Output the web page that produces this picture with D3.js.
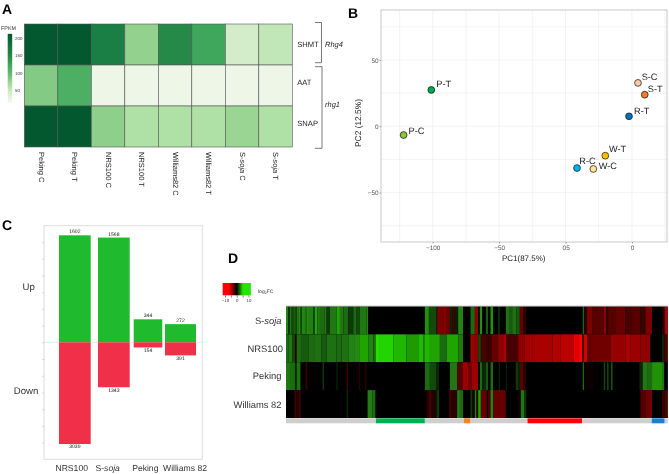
<!DOCTYPE html>
<html><head><meta charset="utf-8">
<script src="https://cdn.jsdelivr.net/npm/d3@7"></script>
<style>html,body{margin:0;padding:0;background:#fff}svg{display:block;filter:blur(0.35px)}text{font-family:"Liberation Sans",Arial,sans-serif;text-rendering:geometricPrecision}</style>
</head><body><svg id="c" width="669" height="474"></svg>
<script>
// Panel A data
const aSamples = [["Peking C"],["Peking T"],["NRS100 C"],["NRS100 T"],["Williams82 C"],["Williams82 T"],["S-","soja"," C"],["S-","soja"," T"]];
const aGenes = ["SHMT","AAT","SNAP"];
const aSHMT = [214,214,165,78,150,125,45,55];
const aAAT  = [85,115,20,20,20,20,20,20];
const aSNAP = [214,214,80,63,63,63,74,63];
const aLegendTicks = [50,100,150,200];
// Panel B data
const pcNames = ["P-T","P-C","S-C","S-T","R-T","W-T","W-C","R-C"];
const pc1 = [-100.7,-114.6,3,6.4,-1.5,-13.4,-19.4,-27.6];
const pc2 = [27.4,-6.6,32.7,23.8,7.5,-22.2,-32.2,-31.5];
const pcColors = ["#00a650","#8cc63f","#f8cbad","#ed7d31","#0070c0","#ffc000","#ffe699","#00b0f0"];
const pc1Ticks = [-100,-66.7,-33.3,0];
const pc1TickLabels = ["\u2212100","\u221250","05","0"];
const pc2Ticks = [50,0,-50];
// Panel C data
const cCats = ["NRS100","S-soja","Peking","Williams 82"];
const cUp = [1602,1568,344,272];
const cDown = [3039,1343,154,391];
// Panel D data: [end bin, log2FC] runs along the clustered genes
const dRows = ["S-soja","NRS100","Peking","Williams 82"];
const dSoja = [[7,5],[12,1.5],[17,4],[25,2],[29,5],[32,1.5],[37,4],[44,6],[47,1.5],[57,5],[61,3.5],[69,5.5],[82,4.5],[87,2],[94,7],[102,4],[115,3],[122,4],[132,1.5],[152,4],[162,7],[172,4],[187,3],[202,1.5],[212,3],[222,2],[242,4],[247,5],[417,0],[429,6],[452,2],[454,1],[472,-4],[480,-5],[492,-3.5],[500,1],[507,-2],[517,.8],[532,5],[554,0],[567,3],[577,-5],[582,0],[589,6],[600,0],[607,2.5],[614,0],[622,6],[637,0],[642,1.5],[660,0],[672,3.5],[679,2.5],[692,3.5],[702,2.5],[712,-3],[722,-1],[891,0],[895,3],[904,-1],[919,-4],[954,-2.5],[961,-5],[967,-1],[989,-2.5],[1019,-3],[1039,-2],[1064,-2.5],[1079,-1.5],[1099,-4],[1129,0],[1137,-1],[1146,-7]];
const dNRS = [[7,3],[19,4],[27,2],[32,-1],[45,3],[67,2.5],[87,3],[107,3.5],[122,2.5],[152,3.5],[167,3],[187,3.5],[207,5],[222,5.5],[247,7],[262,5],[269,3],[282,10],[322,9.5],[362,8],[397,6.5],[412,8],[417,6],[432,8],[462,7],[482,3],[517,7],[532,4],[554,0],[567,-6],[577,-5],[585,2],[603,-2],[617,-1.5],[637,-3],[652,-5],[662,-7],[697,-2],[717,-5],[747,-6.5],[800,-7],[825,-7.5],[864,-8],[879,-10],[889,-11],[894,-1.5],[904,-9],[914,-3],[974,-3.5],[1019,-5.5],[1034,-7],[1064,-6],[1094,-5],[1129,0],[1136,1],[1146,-2]];
const dPeking = [[12,4],[27,3],[32,1],[44,3.5],[59,0],[65,-1.5],[110,0],[115,1.5],[152,0],[155,1.5],[182,0],[187,-1.5],[219,0],[223,-1],[237,0],[242,-1],[417,0],[432,3],[452,2],[460,1],[492,0],[514,4],[530,-2.5],[547,-6],[557,-4],[577,-6],[582,0],[589,3],[600,1],[607,2.5],[614,0],[622,3],[639,0],[643,1],[660,0],[664,.8],[690,0],[697,1.5],[702,1],[712,-2.5],[722,-1],[891,0],[895,3],[924,-.3],[954,0],[959,2],[964,0],[969,2],[976,0],[981,2.5],[1061,0],[1071,1],[1084,4],[1099,3],[1129,6],[1136,4],[1146,0]];
const dWilliams = [[25,0],[30,-1.5],[37,-.8],[45,-1.5],[182,0],[187,1],[245,0],[259,4.5],[269,3],[422,0],[430,-1],[435,-2.5],[452,-.8],[460,1.5],[490,0],[497,-2],[514,-1],[522,5],[532,3],[554,0],[560,1.5],[567,-.5],[572,5],[577,-1],[585,7],[603,-3],[607,0],[614,-2.5],[622,5],[660,-3],[697,0],[705,-.5],[715,4],[722,1.5],[1064,0],[1079,-2.5],[1099,-3.5],[1129,0],[1137,-1.5],[1146,-2]];
const dBins = 1146;
const dClusterEnds = [270,417,534,554,725,889,1098,1137,1146];
const dClusterColors = ["#cfcfcf","#00b050","#cfcfcf","#f58220","#cfcfcf","#ff0000","#cfcfcf","#1b7fd6","#cfcfcf"];

const svg = d3.select("#c");
const T = (g,x,y,s,o={})=>{const t=g.append("text").attr("x",x).attr("y",y).attr("font-size",o.size||8).attr("fill",o.fill||"#222").text(s);
  if(o.anchor)t.attr("text-anchor",o.anchor); if(o.bold)t.attr("font-weight","bold"); if(o.italic)t.attr("font-style","italic"); if(o.base)t.attr("dominant-baseline",o.base); return t;};
[["A",2,13.5],["B",348,17.5],["C",2,230],["D",228,263]].forEach(d=>T(svg,d[1],d[2],d[0],{size:14,bold:true,fill:"#000"}));

// ---------- A ----------
const A = svg.append("g");
const greens = d3.scaleLinear().domain([15,20,50,63,78,100,125,150,165,214])
  .range(["#f2f9ed","#eef7e7","#cdebc5","#afe0a6","#92d18e","#62ba6e","#3ea75b","#258a47","#1a7f45","#03582f"]);
const ax = d3.scaleBand().domain(aSamples.map((d,i)=>i)).range([24.3,292.3]);
const ay = d3.scaleBand().domain(aGenes).range([24,147]);
[aSHMT,aAAT,aSNAP].forEach((row,r)=>{
  A.selectAll(null).data(row).enter().append("rect")
   .attr("x",(d,i)=>ax(i)).attr("y",ay(aGenes[r])).attr("width",ax.bandwidth()).attr("height",ay.bandwidth())
   .attr("fill",d=>greens(d)).attr("stroke","#555").attr("stroke-width",0.6);
});
aGenes.forEach(g=>T(A,297.3,ay(g)+ay.bandwidth()/2-(g==="SHMT"?0:2.5),g,{size:7.6,base:"middle",fill:"#222"}));
aSamples.forEach((parts,i)=>{
  const t=A.append("text").attr("transform",`translate(${ax(i)+ax.bandwidth()/2-2.5},152) rotate(90)`).attr("font-size",7.5).attr("fill","#222");
  parts.forEach(p=>t.append("tspan").attr("font-style",p==="soja"?"italic":"normal").text(p));
});
const bracket=(x0,x1,y0,y1)=>A.append("path").attr("d",`M${x0},${y0}H${x1}V${y1}H${x0}`).attr("fill","none").attr("stroke","#555").attr("stroke-width",0.8);
bracket(315,321.5,22.5,62.7); bracket(315,322,66.7,148.3);
T(A,325,46.5,"Rhg4",{size:7.5,italic:true}); T(A,325,106.5,"rhg1",{size:7.5,italic:true});
T(A,1,30,"FPKM",{size:5.4,fill:"#333"});
const legY = d3.scaleLinear().domain([50,200]).range([90.7,38.7]);
const defs = svg.append("defs");
const grad = defs.append("linearGradient").attr("id","gA").attr("x1",0).attr("x2",0).attr("y1",1).attr("y2",0);
d3.range(15,215,10).concat([214]).forEach(v=>grad.append("stop").attr("offset",(v-15)/199).attr("stop-color",greens(v)));
A.append("rect").attr("x",7.7).attr("width",4.5).attr("y",legY(214)).attr("height",legY(15)-legY(214)).attr("fill","url(#gA)");
aLegendTicks.forEach(v=>T(A,15,legY(v),v,{size:4.4,base:"middle",fill:"#333"}));

// ---------- B ----------
const B = svg.append("g");
const px = d3.scaleLinear().domain([-100,0]).range([432.7,632]);
const py = d3.scaleLinear().domain([-87.3,87.7]).range([242,10]);
const gridX = d3.range(-116.6,20,16.65), gridY=[75,50,25,0,-25,-50,-75];
B.selectAll(null).data(gridX).enter().append("line").attr("x1",d=>px(d)).attr("x2",d=>px(d)).attr("y1",10).attr("y2",242).attr("stroke","#eeeeee").attr("stroke-width",0.7);
B.selectAll(null).data(gridY).enter().append("line").attr("y1",d=>py(d)).attr("y2",d=>py(d)).attr("x1",381).attr("x2",667).attr("stroke","#eeeeee").attr("stroke-width",0.7);
B.append("rect").attr("x",381).attr("y",10).attr("width",286).attr("height",232).attr("fill","none").attr("stroke","#c8c8c8").attr("stroke-width",1);
const bxa = B.append("g").attr("transform","translate(0,242)").call(d3.axisBottom(px).tickValues(pc1Ticks).tickSize(1.5).tickPadding(2).tickFormat((d,i)=>pc1TickLabels[i]));
const bya = B.append("g").attr("transform","translate(381,0)").call(d3.axisLeft(py).tickValues(pc2Ticks).tickSize(1.5).tickPadding(1).tickFormat(d=>d<0?"\u2212"+(-d):d));
[bxa,bya].forEach(g=>{g.select(".domain").remove();g.selectAll("line").attr("stroke","#999");g.selectAll("text").attr("font-size",6.4).attr("fill","#555").attr("font-family","Liberation Sans");});
T(B,523.7,261,"PC1(87.5%)",{size:8,anchor:"middle",fill:"#222"});
B.append("text").attr("transform","translate(361,123) rotate(-90)").attr("text-anchor","middle").attr("font-size",8.4).attr("fill","#222").text("PC2 (12.5%)");
const labelDx=[5,5,3.7,3,5,3.7,5.4,2.3], labelDy=[-3,-1,-3,-2.7,-2.3,-4,0,-4.3];
pcNames.forEach((n,i)=>{
  B.append("circle").attr("cx",px(pc1[i])).attr("cy",py(pc2[i])).attr("r",3.4).attr("fill",pcColors[i]).attr("stroke","#111").attr("stroke-width",0.7);
  T(B,px(pc1[i])+labelDx[i],py(pc2[i])+labelDy[i],n,{size:9.2,fill:"#222"});
});

// ---------- C ----------
const C = svg.append("g");
const yUp = d3.scaleLinear().domain([0,1602]).range([342.3,235.3]);
const yDown = d3.scaleLinear().domain([0,3039]).range([342.3,444]);
const barLeft = d3.scaleOrdinal(cCats,[59,98,133.7,165]);
const barWidth = d3.scaleOrdinal(cCats,[31.7,31.7,28.6,31]);
const catLabelX = d3.scaleOrdinal(cCats,[71.7,107.7,145.3,185]);
C.append("rect").attr("x",44).attr("y",225.7).attr("width",158.3).attr("height",233.6).attr("fill","none").attr("stroke","#dcdcdc").attr("stroke-width",1);
C.append("line").attr("x1",44).attr("x2",202).attr("y1",yUp(0)).attr("y2",yUp(0)).attr("stroke","#e2e2e2").attr("stroke-width",0.7);
const cAx = g=>{g.select(".domain").remove();g.selectAll("text").remove();g.selectAll("line").attr("stroke","#bbb").attr("stroke-width",0.7);};
C.append("g").attr("transform","translate(44,0)").call(d3.axisLeft(yUp).tickValues(d3.range(0,1501,250)).tickSize(1.5)).call(cAx);
C.append("g").attr("transform","translate(44,0)").call(d3.axisLeft(yDown).tickValues(d3.range(500,3001,500)).tickSize(1.5)).call(cAx);
C.selectAll(null).data(cCats).enter().append("rect").attr("x",d=>barLeft(d)).attr("width",d=>barWidth(d))
  .attr("y",(d,i)=>yUp(cUp[i])).attr("height",(d,i)=>yUp(0)-yUp(cUp[i])).attr("fill","#20ba2f");
C.selectAll(null).data(cCats).enter().append("rect").attr("x",d=>barLeft(d)).attr("width",d=>barWidth(d))
  .attr("y",yDown(0)).attr("height",(d,i)=>yDown(cDown[i])-yDown(0)).attr("fill","#f03049");
cCats.forEach((c,i)=>{
  const cx=barLeft(c)+barWidth(c)/2;
  T(C,cx,yUp(cUp[i])-2,cUp[i],{size:5.1,anchor:"middle",fill:"#222"});
  T(C,cx,yDown(cDown[i])+4.3,cDown[i],{size:5.1,anchor:"middle",fill:"#222"});
  const t=T(C,catLabelX(c),470.7,"",{size:8.6,anchor:"middle",fill:"#333"});
  if(c==="S-soja"){t.append("tspan").text("S-");t.append("tspan").attr("font-style","italic").text("soja");} else t.text(c);
});
T(C,28.7,290,"Up",{size:9.6,anchor:"middle",fill:"#333"});
T(C,26,394,"Down",{size:9.6,anchor:"middle",fill:"#333"});

// ---------- D ----------
const D = svg.append("g");
const dColor = d3.scaleLinear().domain([-11,-10,-7.5,-5,-3,-1,0,1.5,3,5,6.5,8,10])
  .range(["#ff0000","#e80000","#b00000","#8f0000","#660000","#2a0000","#000000","#0d3a08","#1c6a12","#248316","#1f9a00","#20b800","#24de00"]).clamp(true);
const dx = d3.scaleLinear().domain([0,dBins]).range([286,667.7]);
const dy = d3.scaleBand().domain(dRows).range([306.5,418]);
D.append("rect").attr("x",286).attr("y",306.5).attr("width",381.7).attr("height",111.5).attr("fill","#000");
[dSoja,dNRS,dPeking,dWilliams].forEach((runs,r)=>{
  D.selectAll(null).data(runs).enter().append("rect")
   .attr("x",(d,i)=>dx(i?runs[i-1][0]:0)).attr("width",(d,i)=>dx(d[0])-dx(i?runs[i-1][0]:0))
   .attr("y",dy(dRows[r])).attr("height",dy.bandwidth()).attr("fill",d=>dColor(d[1]));
});
D.append("line").attr("x1",286).attr("x2",667.7).attr("y1",306.2).attr("y2",306.2).attr("stroke","#999").attr("stroke-width",0.8);
D.selectAll(null).data(dClusterEnds).enter().append("rect")
  .attr("x",(d,i)=>dx(i?dClusterEnds[i-1]:0)).attr("width",(d,i)=>dx(d)-dx(i?dClusterEnds[i-1]:0))
  .attr("y",418.3).attr("height",5).attr("fill",(d,i)=>dClusterColors[i]);
dRows.forEach(r=>{
  const t=T(D,r==="NRS100"?283:281.5,dy(r)+dy.bandwidth()/2+3.2+(r==="Williams 82"?1:0),"",{size:9.4,anchor:"end",fill:"#333"});
  if(r==="S-soja"){t.append("tspan").text("S-");t.append("tspan").attr("font-style","italic").text("soja");} else t.text(r);
});
const legX = d3.scaleLinear().domain([-10,10]).range([225,248.5]);
const gd = defs.append("linearGradient").attr("id","gD");
[[0,"#ff0000"],[.22,"#ff0000"],[.5,"#000000"],[.72,"#22e600"],[1,"#22e600"]].forEach(s=>gd.append("stop").attr("offset",s[0]).attr("stop-color",s[1]));
D.append("rect").attr("x",legX(-12)).attr("width",legX(12)-legX(-12)).attr("y",283).attr("height",12.3).attr("fill","url(#gD)");
const dla = D.append("g").attr("transform","translate(0,295.3)").call(d3.axisBottom(legX).tickValues([-10,-5,0,5,10]).tickSize(2.3).tickPadding(1).tickFormat(d=>d%10===0?(d<0?"\u2212"+(-d):d):""));
dla.select(".domain").remove(); dla.selectAll("line").attr("stroke","#333").attr("stroke-width",0.6);
dla.selectAll("text").attr("font-size",4.4).attr("fill","#333").attr("font-family","Liberation Sans");
const lf=T(D,258,293.3,"",{size:5,fill:"#333"});
lf.append("tspan").text("log"); lf.append("tspan").attr("font-size",3.6).attr("dy",1).text("2"); lf.append("tspan").attr("dy",-1).text("FC");
</script></body></html>
